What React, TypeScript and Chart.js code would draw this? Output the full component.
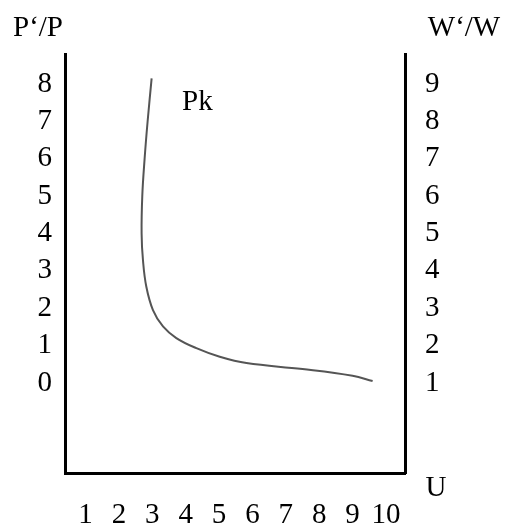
import React, { useEffect, useRef } from "react";
import { Chart, registerables } from "chart.js";

Chart.register(...registerables);

// Curve Pk: x = U, y = P'/P
const curveU = [2.98, 2.86, 2.77, 2.7, 2.68, 2.72, 2.82, 3.02, 3.32, 3.72, 4.32, 5.02, 5.82, 7.5, 9.0, 9.6];
const curveP = [8.15, 7.0, 6.0, 5.0, 4.0, 3.29, 2.58, 1.95, 1.51, 1.2, 0.93, 0.7, 0.53, 0.37, 0.19, 0.05];

const xTicks = [1, 2, 3, 4, 5, 6, 7, 8, 9, 10];
const leftTicks = [0, 1, 2, 3, 4, 5, 6, 7, 8];
const rightTicks = [1, 2, 3, 4, 5, 6, 7, 8, 9];

const leftTitle = "P‘/P";
const rightTitle = "W‘/W";
const xTitle = "U";
const curveLabel = "Pk";
const curveLabelAt = { x: 4.35, y: 7.5 };

const FONT = '"Liberation Serif", "Times New Roman", serif';

export default function App() {
  const ref = useRef<HTMLCanvasElement | null>(null);

  useEffect(() => {
    document.body.style.margin = "0";
    const canvas = ref.current;
    if (!canvas) return;

    const textPlugin = {
      id: "texts",
      afterDraw(chart: any) {
        const { ctx, chartArea, scales } = chart;
        ctx.save();
        ctx.fillStyle = "#000";
        ctx.font = `29px ${FONT}`;
        ctx.textAlign = "center";
        ctx.textBaseline = "middle";
        ctx.fillText(leftTitle, chartArea.left - 27, 28);
        ctx.fillText(rightTitle, chartArea.right + 59, 28);
        ctx.fillText(xTitle, chartArea.right + 31, chartArea.bottom + 15);
        ctx.fillText(
          curveLabel,
          scales.x.getPixelForValue(curveLabelAt.x),
          scales.y.getPixelForValue(curveLabelAt.y)
        );
        ctx.restore();
      },
    };

    const tickFont = { family: FONT, size: 29 };

    const chart = new Chart(canvas, {
      type: "scatter",
      data: {
        datasets: [
          {
            data: curveU.map((u, i) => ({ x: u, y: curveP[i] })),
            showLine: true,
            borderColor: "#555",
            borderWidth: 2,
            pointRadius: 0,
            tension: 0.4,
            fill: false,
          },
        ],
      },
      options: {
        animation: false,
        responsive: false,
        devicePixelRatio: 1,
        layout: { padding: { top: 54, left: 0, right: 0, bottom: 0 } },
        plugins: {
          legend: { display: false },
          tooltip: { enabled: false },
          title: { display: false },
        },
        scales: {
          x: {
            type: "linear",
            position: "bottom",
            min: 0.385,
            max: 10.57,
            grid: { display: false, drawTicks: false },
            border: { display: true, color: "#000", width: 3 },
            ticks: { font: tickFont, color: "#000", padding: 25, autoSkip: false, maxRotation: 0 },
            afterBuildTicks: (s: any) => {
              s.ticks = xTicks.map((v) => ({ value: v }));
            },
            afterFit: (s: any) => {
              s.height = 54;
            },
          },
          y: {
            type: "linear",
            position: "left",
            min: -2.41,
            max: 8.8,
            grid: { display: false, drawTicks: false },
            border: { display: true, color: "#000", width: 3 },
            ticks: { font: tickFont, color: "#000", padding: 13, autoSkip: false },
            afterBuildTicks: (s: any) => {
              s.ticks = leftTicks.map((v) => ({ value: v }));
            },
            afterFit: (s: any) => {
              s.width = 65;
            },
          },
          y2: {
            type: "linear",
            position: "right",
            min: -1.41,
            max: 9.8,
            grid: { display: false, drawTicks: false },
            border: { display: true, color: "#000", width: 3 },
            ticks: { font: tickFont, color: "#000", padding: 20, autoSkip: false },
            afterBuildTicks: (s: any) => {
              s.ticks = rightTicks.map((v) => ({ value: v }));
            },
            afterFit: (s: any) => {
              s.width = 101;
            },
          },
        },
      },
      plugins: [textPlugin],
    });

    return () => chart.destroy();
  }, []);

  return (
    <div style={{ width: 506, height: 527, position: "relative", background: "#fff" }}>
      <canvas ref={ref} width={506} height={527} style={{ display: "block" }} />
    </div>
  );
}
